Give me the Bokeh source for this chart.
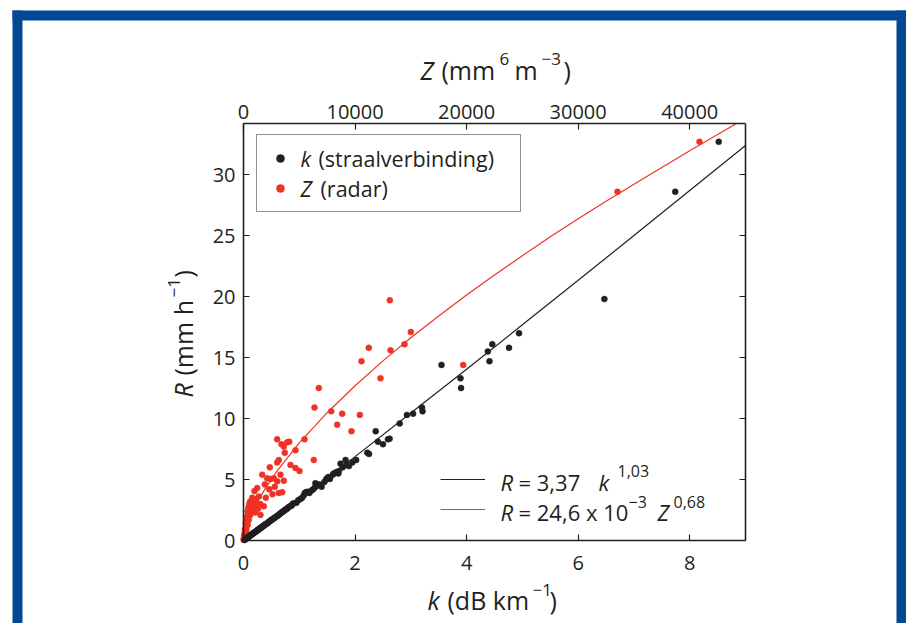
from bokeh.plotting import figure
from bokeh.models import (Range1d, LinearAxis, Label, BoxAnnotation, Legend,
                          LegendItem, FixedTicker)
from bokeh.core.properties import value
from bokeh.embed import file_html
from bokeh.resources import INLINE

# ---------------- data ----------------
black_k = [0.02, 0.03, 0.04, 0.05, 0.06, 0.07, 0.08, 0.09, 0.10, 0.11, 0.12, 0.13,
           0.14, 0.15, 0.16, 0.17, 0.18, 0.19, 0.20, 0.21, 0.22, 0.24, 0.25, 0.26,
           0.27, 0.28, 0.29, 0.30, 0.32, 0.33, 0.34, 0.36, 0.37, 0.38, 0.40, 0.41,
           0.43, 0.45, 0.46, 0.48, 0.50, 0.52, 0.54, 0.55, 0.57, 0.60, 0.62, 0.64,
           0.66, 0.68, 0.70, 0.72, 0.74, 0.76, 0.78, 0.80, 0.83, 0.86, 0.88, 0.90,
           0.95, 0.98, 1.02, 1.05, 1.08, 1.10, 1.12, 1.15, 1.18, 1.22, 1.25, 1.28,
           1.29, 1.32, 1.36, 1.40, 1.45, 1.48, 1.50, 1.52, 1.55, 1.60, 1.62, 1.66,
           1.70, 1.71, 1.74, 1.78, 1.83, 1.85, 1.89, 1.95, 2.02, 2.22, 2.25, 2.37,
           2.41, 2.50, 2.59, 2.62, 2.80, 2.93, 3.04, 3.20, 3.21, 3.55, 3.89, 3.90,
           4.38, 4.41, 4.46, 4.76, 4.94, 6.47, 7.74, 8.52]
black_R = [0.05, 0.10, 0.12, 0.15, 0.20, 0.22, 0.28, 0.30, 0.33, 0.35, 0.42, 0.45,
           0.47, 0.50, 0.55, 0.58, 0.60, 0.64, 0.68, 0.70, 0.72, 0.80, 0.86, 0.85,
           0.90, 0.95, 0.98, 1.02, 1.05, 1.12, 1.14, 1.20, 1.24, 1.30, 1.33, 1.38,
           1.42, 1.50, 1.56, 1.60, 1.70, 1.72, 1.80, 1.85, 1.90, 2.00, 2.05, 2.15,
           2.20, 2.30, 2.35, 2.40, 2.50, 2.55, 2.60, 2.70, 2.80, 2.85, 3.00, 3.05,
           3.10, 3.30, 3.40, 3.50, 3.70, 3.90, 3.95, 4.00, 3.90, 4.10, 4.20, 4.35,
           4.70, 4.50, 4.60, 4.40, 4.80, 5.00, 5.10, 5.20, 5.05, 5.40, 5.50, 5.60,
           5.50, 5.70, 6.30, 6.00, 6.60, 6.20, 6.10, 6.40, 6.60, 7.20, 7.10, 8.96,
           8.10, 7.90, 8.30, 8.35, 9.60, 10.30, 10.40, 10.90, 10.60, 14.40, 13.30, 12.50,
           15.50, 14.70, 16.10, 15.80, 17.00, 19.80, 28.60, 32.70]

red_Z = [40876, 33525, 19694, 13118, 15000, 14432, 11232, 10578, 13177, 12281,
         6750, 6364, 7861, 8846, 8398, 10428, 9681, 5468, 6305, 4661,
         3018, 3406, 3914, 3612, 4100, 3702, 4661, 5020, 4213, 3164,
         3018, 2358, 1676, 3317, 3612, 3018, 2717, 2420, 3164, 3469,
         2120, 1910, 1228, 986, 1374, 780, 1822, 1524, 2000, 2300,
         2600, 1500, 1100, 2800,
         15, 30, 45, 60, 75, 90, 105, 120, 135, 150, 170, 190, 210, 230, 250,
         270, 290, 310, 330, 350, 370, 390, 410, 430, 460, 490, 520, 550, 590,
         630, 670, 710, 760, 820, 880, 940, 120, 200, 280, 360, 440, 520, 600,
         160, 260, 380, 480, 600, 720, 850, 1000, 1150, 1300, 1050]
red_R = [32.7, 28.6, 14.4, 19.7, 17.1, 16.1, 15.8, 14.7, 15.6, 13.3,
         12.5, 10.9, 10.6, 10.4, 9.5, 10.3, 8.96, 8.3, 6.6, 7.4,
         8.3, 7.9, 8.05, 7.7, 8.1, 7.2, 5.95, 5.7, 6.2, 6.6,
         6.4, 6.0, 5.4, 5.4, 4.9, 4.85, 5.1, 5.05, 3.9, 3.96,
         5.1, 4.6, 4.3, 4.05, 3.6, 3.5, 2.8, 2.1, 3.5, 4.2,
         3.8, 3.0, 3.2, 4.4,
         0.05, 0.12, 0.2, 0.25, 0.35, 0.4, 0.5, 0.6, 0.65, 0.75, 0.85, 0.9, 1.0, 1.1, 1.2,
         1.3, 1.4, 1.5, 1.6, 1.75, 1.85, 1.95, 2.05, 2.15, 2.25, 2.35, 2.5, 2.6, 2.7,
         2.8, 2.9, 3.0, 3.05, 3.2, 3.1, 3.4, 0.9, 1.4, 1.9, 2.4, 2.7, 3.0, 3.2,
         0.5, 0.9, 1.3, 1.7, 2.1, 2.4, 2.6, 2.9, 3.0, 2.6, 2.3]

# fit curves as drawn in the picture
fit_k = [0, 0.5, 1, 2, 3, 4, 5, 6, 7, 8, 9]
fit_Rk = [0, 1.65, 3.37, 6.88, 10.45, 14.05, 17.69, 21.34, 25.01, 28.70, 32.40]
fit_Z = [0, 50, 100, 250, 500, 1000, 2000, 3000, 5000, 7500, 10000, 12500, 15000,
         17500, 20000, 22500, 25000, 27500, 30000, 32500, 35000, 37500, 40000, 44200]
fit_RZ = [0, 0.37, 0.59, 1.09, 1.72, 2.74, 4.34, 5.69, 8.0, 10.48, 12.69, 14.73, 16.63,
          18.42, 20.14, 21.77, 23.36, 24.91, 26.39, 27.82, 29.22, 30.59, 31.97, 34.2]

k_ticks = [0, 2, 4, 6, 8]
z_ticks = [0, 10000, 20000, 30000, 40000]
r_ticks = [0, 5, 10, 15, 20, 25, 30]

# ---------------- layout constants (page pixels) ----------------
W, H = 906, 623
PL, PR, PT, PB = 243, 745, 123, 540        # plot box edges
K_MAX, Z_MAX, R_MAX = 9.0, 45000.0, 34.2
INK = "#231f20"
RED = "#ee3224"
BLUE = "#034892"
FONT = "Open Sans"
DY = -9     # baseline correction for labels
DX = -13    # baseline correction for the rotated label

KPX = K_MAX / (PR - PL)
ZPX = Z_MAX / (PR - PL)
RPX = R_MAX / (PB - PT)


def kx(px):
    return (px - PL) * KPX


def ry(py):
    return (PB - py) * RPX


p = figure(width=W, height=H, output_backend="svg", toolbar_location=None,
           x_range=Range1d(kx(0), kx(W)), y_range=Range1d(ry(H), ry(0)),
           x_axis_location=None, y_axis_location=None,
           min_border=0)
p.extra_x_ranges = {"z": Range1d((0 - PL) * ZPX, (W - PL) * ZPX)}
p.background_fill_color = "white"
p.border_fill_color = "white"
p.outline_line_color = None
p.grid.visible = False


def style(ax, standoff):
    ax.major_tick_in = 6
    ax.major_tick_out = 0
    ax.minor_tick_in = 0
    ax.minor_tick_out = 0
    ax.axis_line_color = INK
    ax.axis_line_width = 1.6
    ax.major_tick_line_color = INK
    ax.major_tick_line_width = 1.2
    ax.major_label_text_font = FONT
    ax.major_label_text_font_size = "20px"
    ax.major_label_text_color = INK
    ax.major_label_standoff = standoff
    return ax


bottom = style(LinearAxis(ticker=FixedTicker(ticks=k_ticks), fixed_location=0,
                          bounds=(0, K_MAX)), 15)
left = style(LinearAxis(ticker=FixedTicker(ticks=r_ticks), fixed_location=0,
                        bounds=(0, R_MAX)), 8)
top = style(LinearAxis(x_range_name="z", ticker=FixedTicker(ticks=z_ticks),
                       fixed_location=R_MAX, bounds=(0, Z_MAX)), 5)
right = style(LinearAxis(ticker=FixedTicker(ticks=r_ticks), fixed_location=K_MAX,
                         bounds=(0, R_MAX)), 0)
right.major_label_overrides = {t: "" for t in r_ticks}
p.add_layout(bottom, "below")
p.add_layout(left, "left")
p.add_layout(top, "above")
p.add_layout(right, "right")

# data
ln_k = p.line(fit_k, fit_Rk, line_color=INK, line_width=1.2)
ln_z = p.line(fit_Z, fit_RZ, x_range_name="z", line_color=RED, line_width=1.2)
sc_z = p.scatter(red_Z, red_R, x_range_name="z", size=6, fill_color=RED,
                 line_color=RED, line_width=0.5)
sc_k = p.scatter(black_k, black_R, size=6, fill_color=INK, line_color=INK,
                 line_width=0.5)

# legend 1 (boxed, top-left)
leg1 = Legend(items=[LegendItem(label=value(" "), renderers=[sc_k]),
                     LegendItem(label=value(" "), renderers=[sc_z])],
              location=(256, H - 212), margin=0, padding=13, spacing=10,
              glyph_width=20, glyph_height=20, label_height=20,
              label_width=212, label_standoff=5,
              label_text_font_size="8px",
              border_line_color=INK, border_line_width=1.3,
              background_fill_alpha=0)
p.add_layout(leg1)

# legend 2 (no box, bottom-right)
leg2 = Legend(items=[LegendItem(label=value(" "), renderers=[ln_k]),
                     LegendItem(label=value(" "), renderers=[ln_z])],
              location=(440, H - 519), margin=0, padding=0, spacing=10,
              glyph_width=45, glyph_height=20, label_height=20,
              label_width=20, label_standoff=5,
              label_text_font_size="8px",
              border_line_alpha=0, background_fill_alpha=0)
p.add_layout(leg2)


def txt(px, py, s, size, italic=False, angle=0.0):
    if angle:
        px += DX
    else:
        py += DY
    p.add_layout(Label(x=kx(px), y=ry(py), text=s, text_font=FONT,
                       text_font_size=f"{size}px",
                       text_font_style="italic" if italic else "normal",
                       text_color=INK, text_baseline="alphabetic",
                       text_align="left", angle=angle, level="overlay"))


# legend 1 texts
txt(300, 167, "k", 21.5, True)
txt(318, 167, "(straalverbinding)", 21.5)
txt(300, 197, "Z", 21.5, True)
txt(320, 197, "(radar)", 21.5)

# legend 2 texts
txt(500, 490, "R", 22, True)
txt(518, 490, "= 3,37", 22)
txt(598, 490, "k", 22, True)
txt(617, 479, "1,03", 16)
txt(500, 520, "R", 22, True)
txt(518, 520, "= 24,6 x 10", 22)
txt(628, 510, "\u22123", 16)
txt(657, 520, "Z", 22, True)
txt(673, 510, "0,68", 16)

# bottom axis title
txt(427, 608, "k", 25, True)
txt(447, 608, "(dB km", 25)
txt(532, 598, "\u22121", 17)
txt(549, 608, ")", 25)

# top axis title
txt(420, 78, "Z", 25, True)
txt(441, 78, "(mm", 25)
txt(499, 67, "6", 17)
txt(514, 78, "m", 25)
txt(541, 67, "\u22123", 17)
txt(563, 78, ")", 25)

# left axis title (rotated)
ROT = 1.5707963
txt(195, 397, "R", 25, True, ROT)
txt(195, 375, "(mm h", 25, False, ROT)
txt(186, 297, "\u22121", 17, False, ROT)
txt(195, 277, ")", 25, False, ROT)

# blue frame
for l, r, t, b in [(12, 22, 10, 623), (12, 906, 10, 20), (896, 906, 10, 623)]:
    p.add_layout(BoxAnnotation(left=kx(l), right=kx(r), top=ry(t), bottom=ry(b),
                               fill_color=BLUE, fill_alpha=1, line_alpha=0))

open("out.html", "w").write(file_html(p, INLINE))
